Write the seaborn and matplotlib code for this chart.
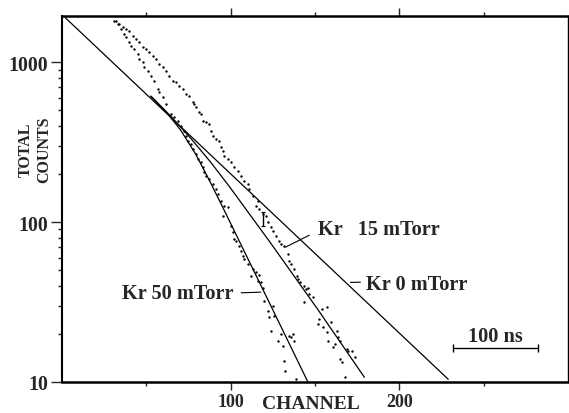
import matplotlib
matplotlib.use('Agg')
import matplotlib.pyplot as plt
from matplotlib.ticker import NullFormatter, FixedLocator
import seaborn as sns

sns.set_style('ticks')
plt.rcParams['font.family'] = ['Liberation Serif', 'DejaVu Serif']
plt.rcParams['font.weight'] = 'bold'

# ---------------- data (channel, total counts) ----------------
kr50_ch = [30.8, 33.1, 34.9, 36.7, 37.9, 39.6, 40.8, 42.6, 45.0, 45.6, 47.9, 48.5, 50.9,
           52.7, 54.4, 56.8, 57.4, 59.8, 61.5, 64.5, 66.3, 68.6, 70.4, 72.2, 73.4, 74.6,
           76.3, 77.5, 79.3, 80.5, 82.2, 83.4, 84.0, 85.2, 87.0, 89.3, 91.1, 92.3, 94.1,
           95.9, 98.2, 95.3, 100.0, 101.2, 101.8, 103.0, 104.7, 105.9, 107.1, 107.7, 110.1,
           113.0, 111.8, 114.8, 116.6, 116.0, 117.8, 118.9, 119.5, 121.9, 122.5, 124.9,
           125.4, 123.7, 127.8, 129.6, 130.8, 134.3, 135.5, 136.7, 137.3, 131.4, 132.5, 138.5]
kr50_counts = [1805, 1730, 1608, 1496, 1433, 1334, 1259, 1206, 1122, 1045, 1000, 931, 879,
               818, 761, 678, 650, 604, 547, 473, 453, 428, 398, 371, 345, 321,
               307, 286, 266, 248, 237, 221, 205, 194, 186, 173, 161, 150, 135,
               126, 124, 109, 94, 87, 78, 76, 71, 66, 61, 59, 55,
               51, 46, 49, 47, 43, 42, 39, 32, 27.8, 25.5, 29.9,
               25.9, 20.8, 18.0, 20.0, 16.8, 19.4, 19.1, 20.0, 18.0, 13.5, 11.7, 10.4]

kr15_ch = [32.0, 33.7, 36.1, 37.9, 39.6, 42.0, 43.8, 45.6, 47.9, 49.7, 51.5, 53.8, 55.6,
           57.4, 59.8, 61.5, 63.3, 65.7, 67.5, 69.2, 71.6, 73.4, 75.1, 77.5, 78.1, 79.3,
           81.1, 82.2, 83.4, 85.2, 87.0, 88.2, 89.3, 91.1, 92.9, 94.1, 95.3, 95.9, 98.2,
           100.0, 101.8, 104.1, 105.9, 107.7, 110.1, 110.7, 113.0, 116.0, 114.8, 116.6,
           118.9, 120.7, 121.9, 123.7, 124.9, 126.6, 128.4, 129.6, 131.4, 133.7, 134.3,
           135.5, 137.3, 139.6, 140.2, 141.4, 143.2, 145.6, 144.4, 146.2, 143.2, 149.1,
           154.4, 157.4, 152.1, 151.5, 155.0, 159.2, 157.4, 163.3, 163.9, 165.1, 158.0,
           162.1, 160.4, 169.2, 169.8, 172.2, 165.1, 174.0, 166.3, 168.0]
kr15_counts = [1805, 1730, 1656, 1608, 1563, 1455, 1393, 1334, 1242, 1206, 1156, 1091, 1045,
               972, 931, 879, 818, 761, 750, 708, 678, 631, 614, 562, 547, 524,
               488, 473, 428, 422, 410, 371, 345, 330, 321, 294, 278, 259, 248,
               237, 221, 208, 194, 180, 173, 161, 145, 135, 126, 121,
               112, 109, 100, 93, 88, 82, 76, 73, 71, 63, 57,
               55, 51, 46, 44, 42, 40, 39, 38, 35.5, 31.6, 34,
               28.6, 29.4, 24.8, 23.0, 22.1, 23.7, 20.5, 20.8, 19.1, 18.0, 18.0,
               17.3, 16.6, 16.1, 15.6, 15.6, 13.9, 14.3, 13.3, 10.7]

# fitted curves
fit0_ch = [2, 229]
fit0_counts = [1900, 10.4]
fit15_ch = [52.7, 64.5, 76.3, 88.2, 100.0, 123.7, 151.5, 179.3]
fit15_counts = [614, 460, 335, 237, 163, 74, 28.6, 10.7]
fit50_ch = [52.7, 61.5, 70.4, 79.3, 87.0, 95.3, 121.9, 145.6]
fit50_counts = [614, 494, 376, 266, 186, 124, 33, 10.1]

# error-bar marker on the Kr 15 curve
err_ch = [118.9]
err_counts = [104]
err_low = [10]
err_high = [12]

# 100 ns time-scale bar (in channels)
bar_center = [257]
bar_level = [16.3]
bar_half = [25]

x_major = [100, 200]
x_minor = [50, 150, 250]
y_major = [10, 100, 1000]
y_major_labels = ['10', '100', '1000']

# ---------------- figure ----------------
fig = plt.figure(figsize=(5.69, 4.14), dpi=100)
ax = fig.add_axes([62 / 569, 1 - 383 / 414, 506 / 569, 366 / 414])
ax.set_yscale('log')

sns.scatterplot(x=kr50_ch, y=kr50_counts, ax=ax, s=3, color='black',
                linewidth=0, marker='o', legend=False)
sns.scatterplot(x=kr15_ch, y=kr15_counts, ax=ax, s=3, color='black',
                linewidth=0, marker='o', legend=False)

for cx, cy in [(fit0_ch, fit0_counts), (fit15_ch, fit15_counts), (fit50_ch, fit50_counts)]:
    sns.lineplot(x=cx, y=cy, ax=ax, color='black', lw=0.9, sort=False,
                 estimator=None, legend=False)

ax.errorbar(err_ch, err_counts, yerr=[err_low, err_high], fmt='none',
            ecolor='black', elinewidth=1.0, capsize=1.5, capthick=0.8)
ax.errorbar(bar_center, bar_level, xerr=[bar_half], fmt='none',
            ecolor='black', elinewidth=1.0, capsize=3, capthick=1.0)

ax.set_xlim(0, 300)
ax.set_ylim(10, 1950)

# labels with leader lines
fs = 14.6
ax.annotate('Kr 50 mTorr', xy=(117.8, 36.5), xytext=(101.8, 36),
            ha='right', va='center', fontsize=fs, fontweight='bold',
            arrowprops=dict(arrowstyle='-', lw=0.8, color='black',
                            relpos=(1, 0.5), shrinkA=3, shrinkB=0))
ax.annotate('Kr   15 mTorr', xy=(132.5, 69.8), xytext=(151.5, 90.5),
            ha='left', va='center', fontsize=fs, fontweight='bold',
            arrowprops=dict(arrowstyle='-', lw=0.8, color='black',
                            relpos=(0, 0.4), shrinkA=4, shrinkB=0))
ax.annotate('Kr 0 mTorr', xy=(171, 42), xytext=(180.5, 41),
            ha='left', va='center', fontsize=fs, fontweight='bold',
            arrowprops=dict(arrowstyle='-', lw=0.8, color='black',
                            relpos=(0, 0.6), shrinkA=2, shrinkB=0))
ax.text(256.8, 19.4, '100 ns', ha='center', va='center', fontsize=fs,
        fontweight='bold')

# ticks
ax.xaxis.set_major_locator(FixedLocator(x_major))
ax.xaxis.set_minor_locator(FixedLocator(x_minor))
ax.set_xticklabels([str(v) for v in x_major])
ax.set_yticks(y_major)
ax.set_yticklabels(y_major_labels)
ax.yaxis.set_minor_formatter(NullFormatter())
ax.tick_params(axis='x', which='both', direction='out', top=True, bottom=True,
               labeltop=False, labelsize=13, pad=2, width=1.0)
ax.tick_params(axis='x', which='major', length=6)
ax.tick_params(axis='x', which='minor', length=3)
ax.tick_params(axis='y', which='both', direction='out', left=True, right=False,
               labelsize=14.3, pad=2, width=1.0)
ax.tick_params(axis='y', which='major', length=8)
ax.tick_params(axis='y', which='minor', length=3)
for lab in ax.get_xticklabels() + ax.get_yticklabels():
    lab.set_fontweight('bold')

ax.set_xlabel('CHANNEL', fontsize=14, fontweight='bold', va='center')
ax.xaxis.set_label_coords(0.492, -0.058)
ax.set_ylabel('TOTAL\nCOUNTS', fontsize=11.5, fontweight='bold', va='center',
              multialignment='center', linespacing=1.15)
ax.yaxis.set_label_coords(-0.053, 0.637)

ax.spines['top'].set_linewidth(1.8)
ax.spines['bottom'].set_linewidth(1.8)
ax.spines['left'].set_linewidth(1.5)
ax.spines['right'].set_linewidth(1.0)
for s in ax.spines.values():
    s.set_color('black')

fig.savefig('out.png', dpi=100)
